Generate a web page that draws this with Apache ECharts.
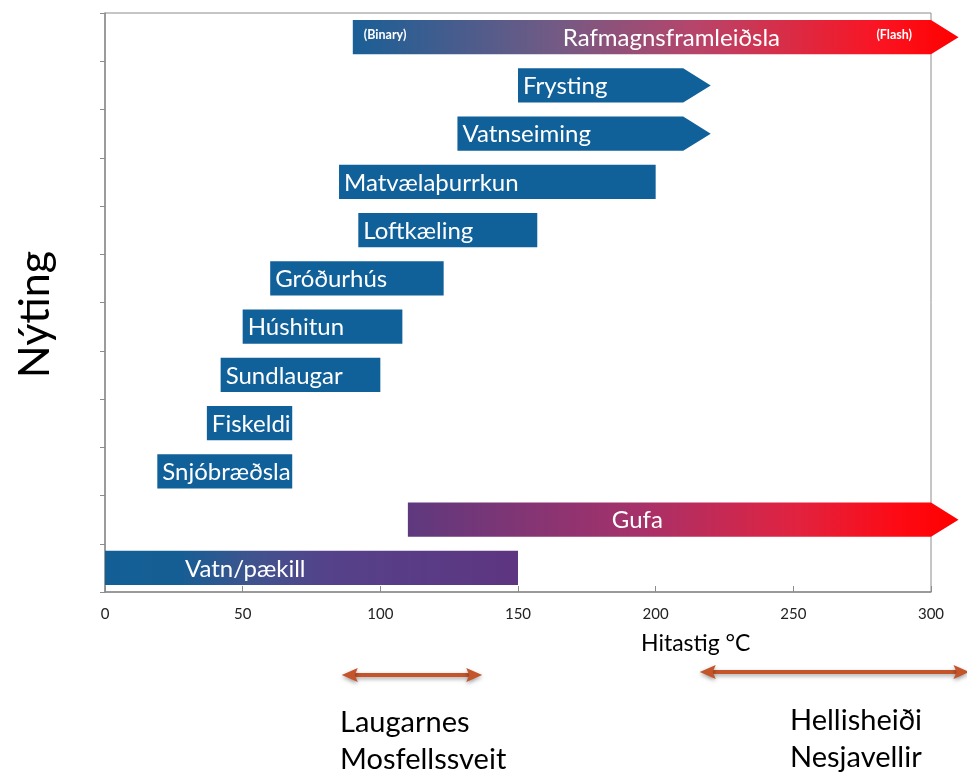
<!DOCTYPE html>
<html>
<head>
<meta charset="utf-8">
<script src="https://cdn.jsdelivr.net/npm/echarts@6/dist/echarts.min.js"></script>
<style>
  html, body { margin: 0; padding: 0; background: #fff; }
  #chart { width: 967px; height: 773px; }
</style>
</head>
<body>
<div id="chart"></div>
<script>
// Temperature ranges (°C) for each use of geothermal heat, bottom row first
const categories = ['Vatn/pækill', 'Gufa', 'Snjóbræðsla', 'Fiskeldi', 'Sundlaugar', 'Húshitun',
  'Gróðurhús', 'Loftkæling', 'Matvælaþurrkun', 'Vatnseiming', 'Frysting', 'Rafmagnsframleiðsla'];
const rangeStart = [0, 110, 19, 37, 42, 50, 60, 92, 85, 128, 150, 90];
const rangeEnd   = [150, 300, 68, 68, 100, 108, 123, 157, 200, 210, 210, 300];
// Where an open-ended range points on (arrow tip); equal to the end when there is no arrow
const arrowTip   = [150, 310, 68, 68, 100, 108, 123, 157, 200, 220, 220, 310];

// Temperature axis ticks
const xTicks = [0, 50, 100, 150, 200, 250, 300];

// Geothermal fields and the temperature span each one delivers
const fieldNames = [['Laugarnes', 'Mosfellssveit'], ['Hellisheiði', 'Nesjavellir']];
const fieldStart = [86, 216];
const fieldEnd   = [137, 314];

const FONT = 'Lato, "Noto Sans", sans-serif';
const BLUE = '#10609a';
const gradients = {
  'Rafmagnsframleiðsla': [[0, '#1a5f96'], [0.34, '#745a84'], [0.57, '#b8446a'], [0.87, '#fa1422'], [1, '#ff0000']],
  'Gufa': [[0, '#5e397e'], [0.42, '#a6316a'], [0.71, '#e2223f'], [0.89, '#fd0a14'], [1, '#ff0000']],
  'Vatn/pækill': [[0, '#135f95'], [0.18, '#155e94'], [0.35, '#3f548e'], [0.54, '#55428a'], [1, '#5e3580']]
};
// Horizontal inset of each label from its bar start, in pixels
const labelInset = { 'Rafmagnsframleiðsla': 210, 'Gufa': 204, 'Vatn/pækill': 80 };

const seriesData = categories.map((c, i) => [i, rangeStart[i], rangeEnd[i], arrowTip[i]]);

const chart = echarts.init(document.getElementById('chart'), null, { renderer: 'canvas' });

function renderBar(params, api) {
  const i = api.value(0);
  const name = categories[i];
  const p0 = api.coord([api.value(1), i]);
  const p1 = api.coord([api.value(2), i]);
  const pt = api.coord([api.value(3), i]);
  const h = api.size([0, 1])[1] * 0.705;
  const top = p0[1] - h / 2, bot = p0[1] + h / 2;
  const pts = pt[0] > p1[0] + 0.5
    ? [[p0[0], top], [p1[0], top], [pt[0], p0[1]], [p1[0], bot], [p0[0], bot]]
    : [[p0[0], top], [p1[0], top], [p1[0], bot], [p0[0], bot]];
  const stops = gradients[name];
  const fill = stops
    ? { type: 'linear', x: 0, y: 0, x2: 1, y2: 0, colorStops: stops.map(s => ({ offset: s[0], color: s[1] })) }
    : BLUE;
  const children = [
    { type: 'polygon', shape: { points: pts }, style: { fill: fill } },
    {
      type: 'text', z2: 10,
      style: {
        text: name, x: p0[0] + (labelInset[name] != null ? labelInset[name] : 5), y: p0[1] + 1,
        fill: '#fff', font: '24px ' + FONT, verticalAlign: 'middle', align: 'left'
      }
    }
  ];
  if (name === 'Rafmagnsframleiðsla') {
    children.push({
      type: 'text', z2: 10,
      style: { text: '(Binary)', x: p0[0] + 11, y: p0[1] - 2, fill: '#fff',
        font: 'bold 12.5px ' + FONT, verticalAlign: 'middle', align: 'left' }
    });
    children.push({
      type: 'text', z2: 10,
      style: { text: '(Flash)', x: p1[0] - 19, y: p0[1] - 2, fill: '#fff',
        font: 'bold 12.5px ' + FONT, verticalAlign: 'middle', align: 'right' }
    });
  }
  return { type: 'group', children: children };
}

const AXIS_GREY = '#8c8c8c';

chart.setOption({
  animation: false,
  backgroundColor: '#fff',
  grid: {
    left: 105, right: 36, top: 13, bottom: 181, show: true, borderColor: AXIS_GREY, borderWidth: 1,
    containLabel: false, outerBoundsMode: 'none'
  },
  xAxis: {
    type: 'value', min: xTicks[0], max: xTicks[xTicks.length - 1], interval: xTicks[1] - xTicks[0],
    axisLine: { show: true, lineStyle: { color: AXIS_GREY, width: 1.5 } },
    axisTick: { show: true, inside: true, length: 6, lineStyle: { color: AXIS_GREY } },
    splitLine: { show: false },
    axisLabel: { color: '#222', fontFamily: FONT, fontSize: 15, margin: 15 }
  },
  yAxis: {
    type: 'category', data: categories, boundaryGap: true,
    name: 'Nýting', nameLocation: 'middle', nameRotate: 90, nameGap: 48,
    nameTextStyle: { color: '#000', fontFamily: FONT, fontSize: 43, padding: [0, 24, 0, 0] },
    axisLine: { show: true, lineStyle: { color: AXIS_GREY, width: 1.5 } },
    axisTick: { show: true, inside: false, length: 5, lineStyle: { color: AXIS_GREY } },
    axisLabel: { show: false },
    splitLine: { show: false }
  },
  series: [{
    type: 'custom', renderItem: renderBar, data: seriesData, clip: false,
    encode: { x: [1, 2, 3], y: 0 }
  }]
});

// Field arrows below the axis, placed on the temperature scale
const ARROW_COLOR = '#c4542a';
const arrowY = [675, 672];
const textLeft = [340, 790];
const textTop = [724, 722];
const graphics = [{
  type: 'text', left: 641, top: 632,
  style: { text: 'Hitastig °C', fill: '#000', font: '23px ' + FONT }
}];
fieldStart.forEach((v, k) => {
  const x0 = chart.convertToPixel({ xAxisIndex: 0 }, v);
  const x1 = chart.convertToPixel({ xAxisIndex: 0 }, fieldEnd[k]);
  const y = arrowY[k];
  const shadow = { shadowBlur: 4, shadowColor: 'rgba(0,0,0,0.35)', shadowOffsetY: 2 };
  graphics.push({
    type: 'group', children: [
      { type: 'line', shape: { x1: x0 + 10, y1: y, x2: x1 - 10, y2: y },
        style: Object.assign({ stroke: ARROW_COLOR, lineWidth: 4 }, shadow) },
      { type: 'polygon', shape: { points: [[x0, y], [x0 + 16, y - 7], [x0 + 13, y], [x0 + 16, y + 7]] },
        style: Object.assign({ fill: ARROW_COLOR }, shadow) },
      { type: 'polygon', shape: { points: [[x1, y], [x1 - 16, y - 7], [x1 - 13, y], [x1 - 16, y + 7]] },
        style: Object.assign({ fill: ARROW_COLOR }, shadow) }
    ]
  });
  fieldNames[k].forEach((t, j) => {
    graphics.push({
      type: 'text', left: textLeft[k], top: textTop[k] + j * 37 - 16,
      style: { text: t, fill: '#000', font: '29px ' + FONT }
    });
  });
});
chart.setOption({ graphic: graphics });
</script>
</body>
</html>
